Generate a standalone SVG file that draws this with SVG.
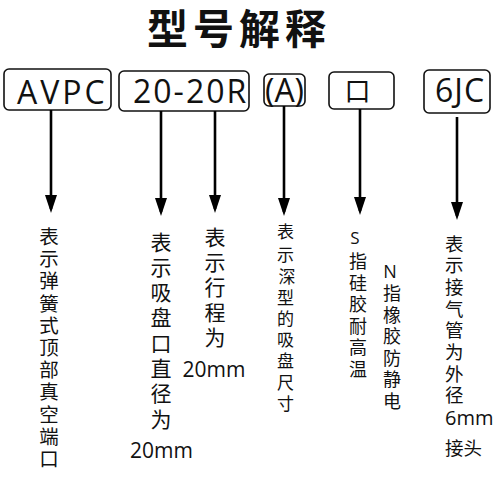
<svg xmlns="http://www.w3.org/2000/svg" width="500" height="500" viewBox="0 0 500 500">
<defs>
<style>
.box{fill:#fff;stroke:#111;stroke-width:1.6}
.code{font-family:"Open Sans","Noto Sans","Noto Sans CJK SC",sans-serif;font-size:32px;fill:#111}
.cn{font-family:"Noto Sans CJK SC","Open Sans",sans-serif;fill:#111;text-anchor:middle}
.lat{font-family:"Open Sans","Noto Sans",sans-serif}
.conn{stroke:#000;stroke-width:2.6;fill:none;marker-end:url(#ah)}
</style>
<marker id="ah" markerUnits="userSpaceOnUse" viewBox="0 0 18 12" refX="14" refY="6" markerWidth="18" markerHeight="12" orient="auto">
<path d="M0,0 L18,6 L0,12 Z" fill="#000"/>
</marker>
</defs>
<rect width="500" height="500" fill="#fff"/>
<text id="title" x="147" y="44" font-family="'Noto Sans CJK SC',sans-serif" font-weight="bold" font-size="41" letter-spacing="5" fill="#111">型号解释</text>

<g id="node-avpc">
<rect class="box" x="4" y="69" width="107" height="41" rx="5"/>
<text class="code" x="17" y="104" letter-spacing="3">AVPC</text>
</g>
<g id="node-2020r">
<rect class="box" x="119" y="71" width="130" height="40" rx="5"/>
<text class="code" x="133" y="103" letter-spacing="2">20-20R</text>
</g>
<g id="node-a">
<rect class="box" x="264" y="74" width="41" height="32" rx="5"/>
<text class="code" x="284.5" y="102" text-anchor="middle">(A)</text>
</g>
<g id="node-kou">
<rect class="box" x="329" y="72" width="65" height="37" rx="5"/>
<text x="357.5" y="101" font-family="'Noto Sans CJK SC',sans-serif" font-size="26" text-anchor="middle" fill="#111">口</text>
</g>
<g id="node-6jc">
<rect class="box" x="424" y="70" width="66" height="43" rx="5"/>
<text class="code" x="435" y="102" letter-spacing="1">6JC</text>
</g>

<g id="connectors">
<line class="conn" x1="51" y1="110" x2="51" y2="209"/>
<line class="conn" x1="161" y1="111" x2="161" y2="212"/>
<line class="conn" x1="215" y1="111" x2="215" y2="209"/>
<line class="conn" x1="284" y1="106" x2="284" y2="212"/>
<line class="conn" x1="360" y1="109" x2="360" y2="211"/>
<line class="conn" x1="457" y1="117" x2="457" y2="216"/>
</g>

<g id="desc-avpc">
<text class="cn" font-size="19.5"><tspan x="49" y="244">表</tspan><tspan x="49" y="266.2">示</tspan><tspan x="49" y="288.4">弹</tspan><tspan x="49" y="310.6">簧</tspan><tspan x="49" y="332.8">式</tspan><tspan x="49" y="355">顶</tspan><tspan x="49" y="377.2">部</tspan><tspan x="49" y="399.4">真</tspan><tspan x="49" y="421.6">空</tspan><tspan x="49" y="443.8">端</tspan><tspan x="49" y="466">口</tspan></text>
</g>

<g id="desc-diameter">
<text class="cn" font-size="21"><tspan x="161" y="249.5">表</tspan><tspan x="161" y="274.8">示</tspan><tspan x="161" y="300.1">吸</tspan><tspan x="161" y="325.4">盘</tspan><tspan x="161" y="350.7">口</tspan><tspan x="161" y="376">直</tspan><tspan x="161" y="401.3">径</tspan><tspan x="161" y="426.6">为</tspan><tspan class="lat" x="161.5" y="458">20mm</tspan></text>
</g>

<g id="desc-stroke">
<text class="cn" font-size="21"><tspan x="215" y="244.5">表</tspan><tspan x="215" y="269.7">示</tspan><tspan x="215" y="294.9">行</tspan><tspan x="215" y="320.1">程</tspan><tspan x="215" y="345.3">为</tspan><tspan class="lat" x="214" y="377">20mm</tspan></text>
</g>

<g id="desc-a">
<text class="cn" font-size="17"><tspan x="285.5" y="237.5">表</tspan><tspan x="285.5" y="261">示</tspan><tspan x="287" y="282.5">深</tspan><tspan x="285.5" y="303.7">型</tspan><tspan x="285.5" y="324.9">的</tspan><tspan x="285.5" y="346.1">吸</tspan><tspan x="285.5" y="367.3">盘</tspan><tspan x="285.5" y="388.5">尺</tspan><tspan x="285.5" y="409.7">寸</tspan></text>
</g>

<g id="desc-s">
<text class="cn" font-size="18"><tspan class="lat" x="355" y="244" font-size="17">S</tspan><tspan x="358" y="268">指</tspan><tspan x="358" y="289.5">硅</tspan><tspan x="358" y="311">胶</tspan><tspan x="358" y="332.5">耐</tspan><tspan x="358" y="354">高</tspan><tspan x="358" y="375.5">温</tspan></text>
</g>

<g id="desc-n">
<text class="cn" font-size="18"><tspan class="lat" x="390" y="278">N</tspan><tspan x="392" y="300">指</tspan><tspan x="392" y="321.5">橡</tspan><tspan x="392" y="343">胶</tspan><tspan x="392" y="364.5">防</tspan><tspan x="392" y="386">静</tspan><tspan x="392" y="407.5">电</tspan></text>
</g>

<g id="desc-6jc">
<text class="cn" font-size="18.5" style="text-anchor:start"><tspan x="445" y="250.5">表</tspan><tspan x="445" y="272.2">示</tspan><tspan x="445" y="293.9">接</tspan><tspan x="445" y="315.6">气</tspan><tspan x="445" y="337.3">管</tspan><tspan x="445" y="359">为</tspan><tspan x="445" y="380.7">外</tspan><tspan x="445" y="402.4">径</tspan><tspan class="lat" x="445" y="425" font-size="20">6mm</tspan><tspan x="445" y="455">接头</tspan></text>
</g>
</svg>
